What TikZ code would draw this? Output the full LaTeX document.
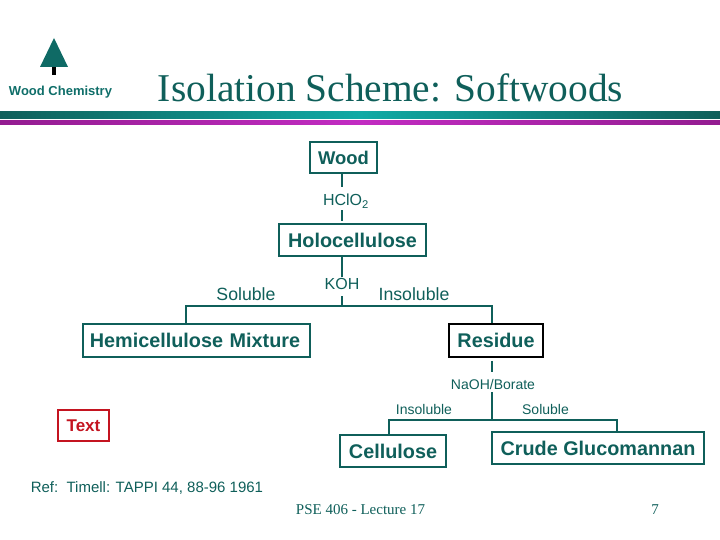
\documentclass[tikz,border=0pt]{standalone}
\usepackage{fontspec}
\setmainfont{Liberation Serif}
\setsansfont{Liberation Sans}
\usetikzlibrary{calc}
\definecolor{accent}{HTML}{0F5F5A}
\definecolor{barlight}{HTML}{10AAA5}
\definecolor{magdark}{HTML}{931C90}
\definecolor{maglight}{HTML}{C22CC2}
\definecolor{redbox}{HTML}{C41420}
\newcommand{\sz}[1]{\fontsize{#1}{#1}\selectfont}

\begin{document}
\begin{tikzpicture}[x=1pt,y=-1pt,line width=1.5pt,
   chembox/.style={draw=accent,fill=white,line width=1.6pt,text=accent,inner sep=0pt,font=\sffamily\bfseries\sz{19.8}},
   reagent/.style={fill=white,text=accent,inner sep=1pt,font=\sffamily\sz{16}},
   phase/.style={text=accent,inner sep=0pt,font=\sffamily\sz{17.7}},
   smallphase/.style={text=accent,inner sep=0pt,font=\sffamily\sz{14}},
   link/.style={draw=accent}]
  \useasboundingbox (0,0) rectangle (720,540);
  % header
  \shade[left color=accent,right color=accent,middle color=barlight] (0,112) rectangle (720,119);
  \shade[left color=magdark,right color=magdark,middle color=maglight] (0,121) rectangle (720,125);
  \fill[black] (52,66) rectangle (56,75);
  \fill[accent!85!barlight] (54,38) -- (68,67) -- (40,67) -- cycle;
  \node[text=accent!80!barlight,inner sep=0pt,font=\sffamily\bfseries\sz{13}] (logo) at (60.5,92) {Wood Chemistry};
  \node[text=accent,inner sep=0pt,font=\sz{39.4}] (title) at (390.5,88) {Isolation Scheme: Softwoods};
  % boxes
  \node[chembox,minimum width=67pt,minimum height=31pt,font=\sffamily\bfseries\sz{18.4}] (wood) at (343.5,157.5) {Wood};
  \node[chembox,minimum width=147pt,minimum height=32pt] (holo) at (352.5,240) {Holocellulose};
  \node[chembox,minimum width=227pt,minimum height=33pt,text width=225pt,align=center] (hemi) at (196.5,340.5) {\hspace*{-3pt}Hemicellulose Mixture};
  \node[chembox,draw=black,minimum width=94pt,minimum height=33pt] (residue) at (496,340.5) {Residue};
  \node[chembox,minimum width=106pt,minimum height=32pt] (cell) at (393,451) {Cellulose};
  \node[chembox,minimum width=212pt,minimum height=32pt] (crude) at (598,448) {Crude Glucomannan};
  \node[chembox,draw=redbox,text=redbox,minimum width=51pt,minimum height=31pt,font=\sffamily\bfseries\sz{17}] (textbox) at (83.5,425.5) {Text};
  % junctions
  \coordinate (trunk) at (342,306);
  \coordinate (split) at (492,420);
  % connectors
  \draw[link,shorten >=2pt] (wood.south -| trunk) -- node[reagent,xshift=4pt,inner ysep=3pt,text height=16pt,text depth=1pt] {HClO\textsubscript{2}} (holo.north -| trunk);
  \draw[link] (holo.south -| trunk) -- node[pos=.4,anchor=north,reagent,inner sep=0pt,text height=12.5pt,text depth=6pt] {KOH} (trunk);
  \draw[link] (hemi.north -| 186,0) |- (trunk) -| (residue.north -| split);
  \draw[link,shorten <=3pt] (residue.south -| split) -- node[pos=.385,reagent,xshift=1pt,text height=17pt,text depth=1pt,font=\sffamily\sz{14}] {NaOH/Borate} (split);
  \draw[link] (cell.north -| 389,0) |- (split) -| (crude.north -| 617,0);
  % labels
  \node[phase] (sol) at (246,294.5) {Soluble};
  \node[phase] (insol) at (414,294.5) {Insoluble};
  \node[smallphase] (insol2) at (424,409) {Insoluble};
  \node[smallphase] (sol2) at (545.5,409) {Soluble};
  \node[smallphase,anchor=west,font=\sffamily\sz{15}] (ref) at (30,488) {Ref:~~Timell: TAPPI 44, 88-96 1961};
  \node[text=accent,inner sep=0pt,font=\sz{15}] (footer) at (360.5,510) {PSE 406 - Lecture 17};
  \node[text=accent,inner sep=0pt,font=\sz{15}] (page) at (655,510) {7};
\end{tikzpicture}
\end{document}
